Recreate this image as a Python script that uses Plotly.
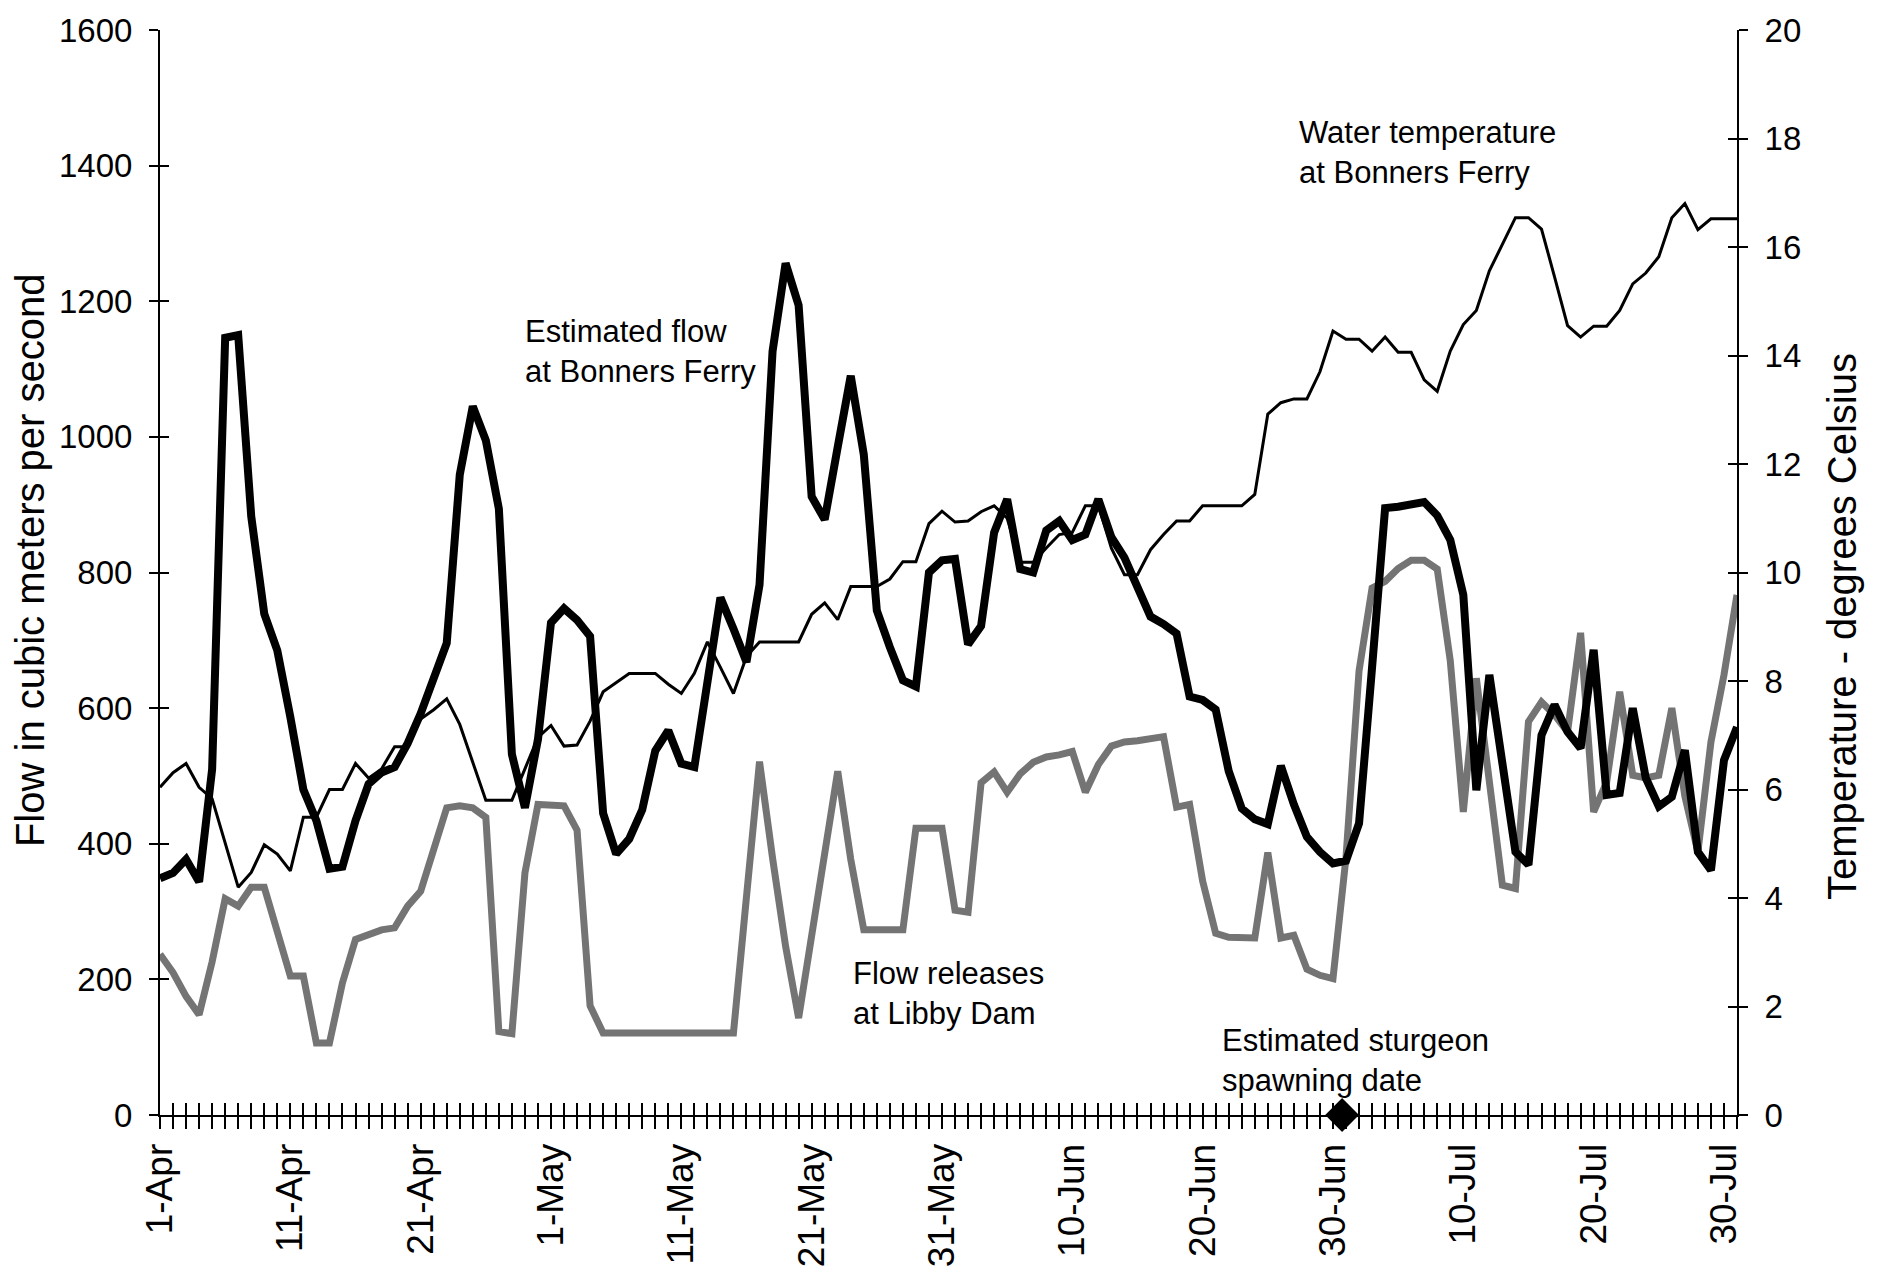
import numpy as np
import plotly.graph_objects as go

# Daily series, 1 April to 31 July (122 days)
days = np.arange(122)

# Estimated flow at Bonners Ferry (m3/s)
flow_bonners = [
    349, 357, 377, 344, 510, 1146, 1150, 883, 739, 685,
    587, 480, 434, 363, 366, 434, 488, 505, 513, 548,
    592, 641, 696, 944, 1045, 995, 894, 532, 453, 554,
    726, 747, 730, 706, 445, 385, 407, 450, 537, 567,
    518, 513, 640, 763, 717, 668, 782, 1126, 1256, 1194,
    912, 878, 985, 1090, 974, 744, 690, 641, 632, 800, 818,
    820, 694, 721, 859, 908, 805, 800, 862, 876, 848,
    856, 908, 852, 822, 775, 735, 724, 710, 617, 612,
    598, 507, 452, 436, 429, 515, 458, 410, 388, 371,
    375, 430, 660, 895, 897, 902, 904, 884, 848, 767,
    479, 649, 516, 388, 369, 560, 605, 565, 541, 686,
    472, 475, 600, 497, 455, 469, 538, 388, 361, 523, 572,
]

# Flow releases at Libby Dam (m3/s)
flow_libby = [
    237, 210, 175, 148, 226, 319, 308, 336, 336, 270,
    205, 205, 106, 106, 195, 259, 267, 273, 276, 308,
    330, 390, 453, 456, 453, 439, 123, 120, 357, 458,
    458, 456, 420, 161, 121, 121, 121, 121, 121, 121,
    121, 121, 121, 121, 121, 322, 521, 379, 249, 143,
    264, 387, 507, 377, 273, 273, 273, 273, 423, 423, 423,
    302, 299, 490, 506, 476, 503, 520, 528, 531, 536,
    476, 517, 544, 550, 552, 555, 558, 454, 458, 345,
    268, 262, 261, 261, 387, 261, 265, 215, 206, 201,
    380, 655, 777, 787, 806, 818, 818, 805, 670, 447,
    644, 490, 339, 334, 580, 609, 590, 565, 711, 447,
    491, 624, 501, 497, 501, 600, 470, 388, 550, 649, 767,
]

# Water temperature at Bonners Ferry (deg C)
water_temp = [
    6.04, 6.31, 6.48, 6.04, 5.83, 5.01, 4.2, 4.47, 4.98, 4.81,
    4.5, 5.49, 5.49, 6.0, 6.0, 6.48, 6.21, 6.38, 6.79, 6.79,
    7.3, 7.47, 7.67, 7.2, 6.48, 5.8, 5.8, 5.8, 6.38, 6.96,
    7.18, 6.8, 6.82, 7.26, 7.8, 7.97, 8.14, 8.14, 8.14, 7.94,
    7.77, 8.14, 8.72, 8.25, 7.77, 8.45, 8.72, 8.72, 8.72, 8.72,
    9.23, 9.44, 9.13, 9.74, 9.74, 9.74, 9.88, 10.2, 10.2, 10.9, 11.13,
    10.93, 10.95, 11.12, 11.23, 11.0, 10.19, 10.19, 10.45, 10.7, 10.74,
    11.23, 11.23, 10.45, 9.96, 9.96, 10.42, 10.7, 10.95, 10.95, 11.23,
    11.23, 11.23, 11.23, 11.44, 12.92, 13.13, 13.2, 13.2, 13.7, 14.45,
    14.3, 14.3, 14.08, 14.34, 14.06, 14.06, 13.55, 13.34, 14.08, 14.57,
    14.83, 15.56, 16.05, 16.54, 16.54, 16.33, 15.45, 14.55, 14.34, 14.54,
    14.54, 14.83, 15.32, 15.52, 15.82, 16.54, 16.8, 16.32, 16.52, 16.52, 16.52,
]

# Date labels every ten days
label_days = list(range(0, 122, 10))
label_text = ["1-Apr", "11-Apr", "21-Apr", "1-May", "11-May", "21-May", "31-May",
              "10-Jun", "20-Jun", "30-Jun", "10-Jul", "20-Jul", "30-Jul"]
tick_text = [""] * len(days)
for d, t in zip(label_days, label_text):
    tick_text[d] = t

# Estimated sturgeon spawning date (day index) on the zero line
spawning_day = [90.7]
spawning_level = [0]

flow_ticks = list(range(0, 1601, 200))
temp_ticks = list(range(0, 21, 2))

FONT = "Liberation Sans, Arial, sans-serif"

fig = go.Figure()

fig.add_trace(go.Scatter(
    x=days, y=flow_libby, mode="lines",
    line=dict(color="#747474", width=7),
    name="Flow releases at Libby Dam", showlegend=False,
))
fig.add_trace(go.Scatter(
    x=days, y=water_temp, mode="lines", yaxis="y2",
    line=dict(color="black", width=3),
    name="Water temperature at Bonners Ferry", showlegend=False,
))
fig.add_trace(go.Scatter(
    x=days, y=flow_bonners, mode="lines",
    line=dict(color="black", width=8),
    name="Estimated flow at Bonners Ferry", showlegend=False,
))
fig.add_trace(go.Scatter(
    x=spawning_day, y=spawning_level, mode="markers",
    marker=dict(symbol="diamond", size=26, color="black"),
    cliponaxis=False, showlegend=False,
))
# empty traces so the overlay axes carrying the inner half of the crossing ticks are drawn
fig.add_trace(go.Scatter(x=[], y=[], xaxis="x2", yaxis="y3", showlegend=False, hoverinfo="skip"))
fig.add_trace(go.Scatter(x=[], y=[], xaxis="x2", yaxis="y4", showlegend=False, hoverinfo="skip"))

axis_common = dict(showgrid=False, zeroline=False, tickcolor="black",
                   tickfont=dict(family=FONT, size=33, color="black"))

fig.update_layout(
    width=1888, height=1287,
    margin=dict(l=160, r=151, t=30, b=172),
    paper_bgcolor="white", plot_bgcolor="white",
    font=dict(family=FONT, color="black"),
    xaxis=dict(
        range=[0, 121], tickmode="array", tickvals=list(days), ticktext=tick_text,
        ticks="outside", ticklen=12, tickwidth=1.5, tickangle=-90,
        showline=True, linecolor="black", linewidth=2,
        ticklabelstandoff=0,
        showgrid=False, zeroline=False, tickcolor="black",
        tickfont=dict(family=FONT, size=37, color="black"),
    ),
    xaxis2=dict(
        overlaying="x", anchor="y", side="bottom", range=[0, 121],
        tickmode="array", tickvals=list(days), ticks="inside", ticklen=12,
        tickwidth=1.5, tickcolor="black", showticklabels=False,
        showgrid=False, zeroline=False, showline=False,
    ),
    yaxis=dict(
        range=[0, 1600], tickmode="array", tickvals=flow_ticks,
        ticks="outside", ticklen=9, tickwidth=1.5,
        showline=True, linecolor="black", linewidth=2,
        ticklabelstandoff=10, **axis_common,
    ),
    yaxis2=dict(
        overlaying="y", anchor="x", side="right", range=[0, 20],
        tickmode="array", tickvals=temp_ticks,
        ticks="outside", ticklen=9, tickwidth=1.5,
        showline=True, linecolor="black", linewidth=2,
        ticklabelstandoff=10, **axis_common,
    ),
    yaxis3=dict(
        overlaying="y", anchor="x", side="left", range=[0, 1600],
        tickmode="array", tickvals=flow_ticks, ticks="inside", ticklen=9,
        tickwidth=1.5, tickcolor="black", showticklabels=False,
        showgrid=False, zeroline=False, showline=False,
    ),
    yaxis4=dict(
        overlaying="y", anchor="x", side="right", range=[0, 20],
        tickmode="array", tickvals=temp_ticks, ticks="inside", ticklen=9,
        tickwidth=1.5, tickcolor="black", showticklabels=False,
        showgrid=False, zeroline=False, showline=False,
    ),
)

text_font = dict(family=FONT, size=31, color="black")
notes = [
    ("Estimated flow<br>at Bonners Ferry", 0.2302, 0.704),
    ("Water temperature<br>at Bonners Ferry", 0.721, 0.887),
    ("Flow releases<br>at Libby Dam", 0.438, 0.1124),
    ("Estimated sturgeon<br>spawning date", 0.672, 0.0498),
]
for txt, ax_x, ax_y in notes:
    fig.add_annotation(text=txt, xref="paper", yref="paper", x=ax_x, y=ax_y,
                       xanchor="left", yanchor="middle", align="left",
                       showarrow=False, font=text_font)

title_font = dict(family=FONT, size=40, color="black")
fig.add_annotation(text="Flow in cubic meters per second", xref="paper", yref="paper",
                   x=-0.0824, y=0.5115, textangle=-90, showarrow=False,
                   xanchor="center", yanchor="middle", font=title_font)
fig.add_annotation(text="Temperature - degrees Celsius", xref="paper", yref="paper",
                   x=1.0666, y=0.4498, textangle=-90, showarrow=False,
                   xanchor="center", yanchor="middle", font=title_font)

fig.write_html("out.html")
